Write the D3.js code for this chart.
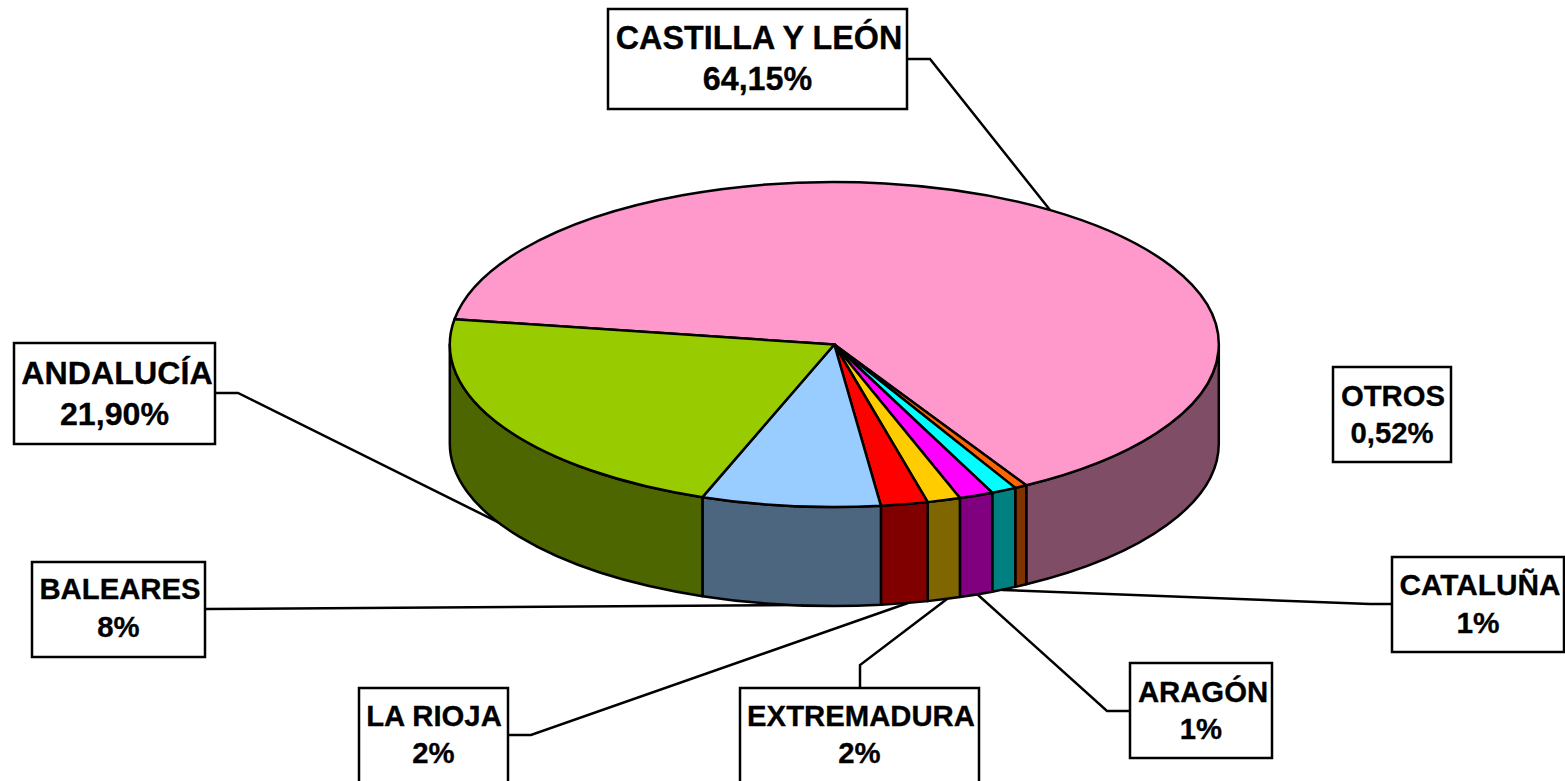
<!DOCTYPE html>
<html>
<head>
<meta charset="utf-8">
<title>Pie</title>
<script src="https://cdnjs.cloudflare.com/ajax/libs/d3/7.8.5/d3.min.js"></script>
<style>
  html, body { margin: 0; padding: 0; background: #fff; overflow: hidden; }
  text { font-family: "Liberation Sans", Arial, sans-serif; font-weight: bold; fill: #000; stroke: #000; stroke-width: 0.3px; }
</style>
</head>
<body>
<div id="chart"></div>
<script>
// Data, clockwise from the left edge of the big slice
var regions = ['CASTILLA Y LEÓN', 'OTROS', 'CATALUÑA', 'ARAGÓN', 'EXTREMADURA', 'LA RIOJA', 'BALEARES', 'ANDALUCÍA'];
var shares = [64.15, 0.52, 1.06, 1.44, 1.39, 1.97, 7.5, 21.90];
var shareLabels = ['64,15%', '0,52%', '1%', '1%', '2%', '2%', '8%', '21,90%'];
var topColors = ['#ff99cc', '#ff6600', '#00ffff', '#ff00ff', '#ffcc00', '#ff0000', '#99ccff', '#99cc00'];
var sideColors = ['#804d66', '#803300', '#008080', '#800080', '#806600', '#800000', '#4d6680', '#4d6600'];

// Callout layout, same order as regions: box corners, font size, baselines, name shift, leader line
var callouts = [
  { box: [608, 9, 907, 109], size: 32.3, base: [49, 90], dx: 1.5, line: [[907, 59], [930, 59], [1050, 210]] },
  { box: [1333, 367, 1451, 462], size: 29.3, base: [406, 443], dx: 1, line: null },
  { box: [1392, 557, 1564, 652], size: 29.8, base: [595, 633], dx: 2, line: [[1392, 604], [1370, 604], [1002, 590]] },
  { box: [1130, 663, 1272, 758], size: 29.3, base: [702, 739], dx: 2, line: [[1130, 711], [1107, 711], [977, 594]] },
  { box: [740, 688, 979, 800], size: 29.3, base: [726, 763], dx: 1.5, line: [[860, 688], [860, 665], [947, 599]] },
  { box: [359, 688, 508, 800], size: 29.3, base: [726, 763], dx: 0.5, line: [[508, 735], [531, 735], [908, 603]] },
  { box: [32, 562, 205, 657], size: 29.3, base: [599, 637], dx: 1.5, line: [[205, 609], [800, 605]] },
  { box: [14, 343, 215, 444], size: 32.2, base: [384, 425], dx: 2.5, line: [[215, 393], [238, 393], [540, 543]] }
];

var width = 1565, height = 781;
var cx = 834.3, cy = 344.5, rx = 384.5, ry = 162.5, depth = 99;
var rad = Math.PI / 180;
var lineWidth = 2.5;

var svg = d3.select('#chart')
  .append('svg')
    .attr('width', width)
    .attr('height', height)
    .style('display', 'block');

// Leader lines sit under the pie
var line = d3.line();
svg.append('g')
  .selectAll('path')
  .data(callouts.filter(function (d) { return d.line; }))
  .enter()
  .append('path')
    .attr('d', function (d) { return line(d.line); })
    .attr('fill', 'none')
    .attr('stroke', '#000')
    .attr('stroke-width', lineWidth);

var pie = d3.pie()
  .sort(null)
  .startAngle(-81.05 * rad)
  .endAngle(278.95 * rad);
var slices = pie(shares);

function rimX(a) { return cx + rx * Math.sin(a); }
function rimY(a) { return cy - ry * Math.cos(a); }

// Outer wall of a slice, only the part that faces the viewer
function wallPath(d) {
  var a0 = Math.max(d.startAngle, 90 * rad);
  var a1 = Math.min(d.endAngle, 270 * rad);
  if (a1 <= a0) return null;
  return 'M' + rimX(a0) + ',' + rimY(a0) +
    'A' + rx + ',' + ry + ' 0 0 1 ' + rimX(a1) + ',' + rimY(a1) +
    'L' + rimX(a1) + ',' + (rimY(a1) + depth) +
    'A' + rx + ',' + ry + ' 0 0 0 ' + rimX(a0) + ',' + (rimY(a0) + depth) +
    'Z';
}

svg.append('g')
  .selectAll('path')
  .data(slices)
  .enter()
  .append('path')
    .attr('d', wallPath)
    .attr('fill', function (d, i) { return sideColors[i]; })
    .attr('stroke', '#000')
    .attr('stroke-width', lineWidth)
    .attr('stroke-linejoin', 'round');

// Top face: a normal d3 arc squashed into an ellipse
var arc = d3.arc().innerRadius(0).outerRadius(rx);
svg.append('g')
  .attr('transform', 'translate(' + cx + ',' + cy + ') scale(1,' + (ry / rx) + ')')
  .selectAll('path')
  .data(slices)
  .enter()
  .append('path')
    .attr('d', arc)
    .attr('fill', function (d, i) { return topColors[i]; })
    .attr('stroke', '#000')
    .attr('stroke-width', lineWidth)
    .attr('stroke-linejoin', 'round')
    .attr('vector-effect', 'non-scaling-stroke');

// Callout boxes
var boxes = svg.append('g')
  .selectAll('g')
  .data(callouts)
  .enter()
  .append('g');

boxes.append('rect')
  .attr('x', function (d) { return d.box[0]; })
  .attr('y', function (d) { return d.box[1]; })
  .attr('width', function (d) { return d.box[2] - d.box[0]; })
  .attr('height', function (d) { return d.box[3] - d.box[1]; })
  .attr('fill', '#fff')
  .attr('stroke', '#000')
  .attr('stroke-width', lineWidth);

boxes.append('text')
  .attr('x', function (d) { return (d.box[0] + d.box[2]) / 2 + d.dx; })
  .attr('y', function (d) { return d.base[0]; })
  .attr('text-anchor', 'middle')
  .attr('font-size', function (d) { return d.size + 'px'; })
  .text(function (d, i) { return regions[i]; });

boxes.append('text')
  .attr('x', function (d) { return (d.box[0] + d.box[2]) / 2; })
  .attr('y', function (d) { return d.base[1]; })
  .attr('text-anchor', 'middle')
  .attr('font-size', function (d) { return d.size + 'px'; })
  .text(function (d, i) { return shareLabels[i]; });
</script>
</body>
</html>
